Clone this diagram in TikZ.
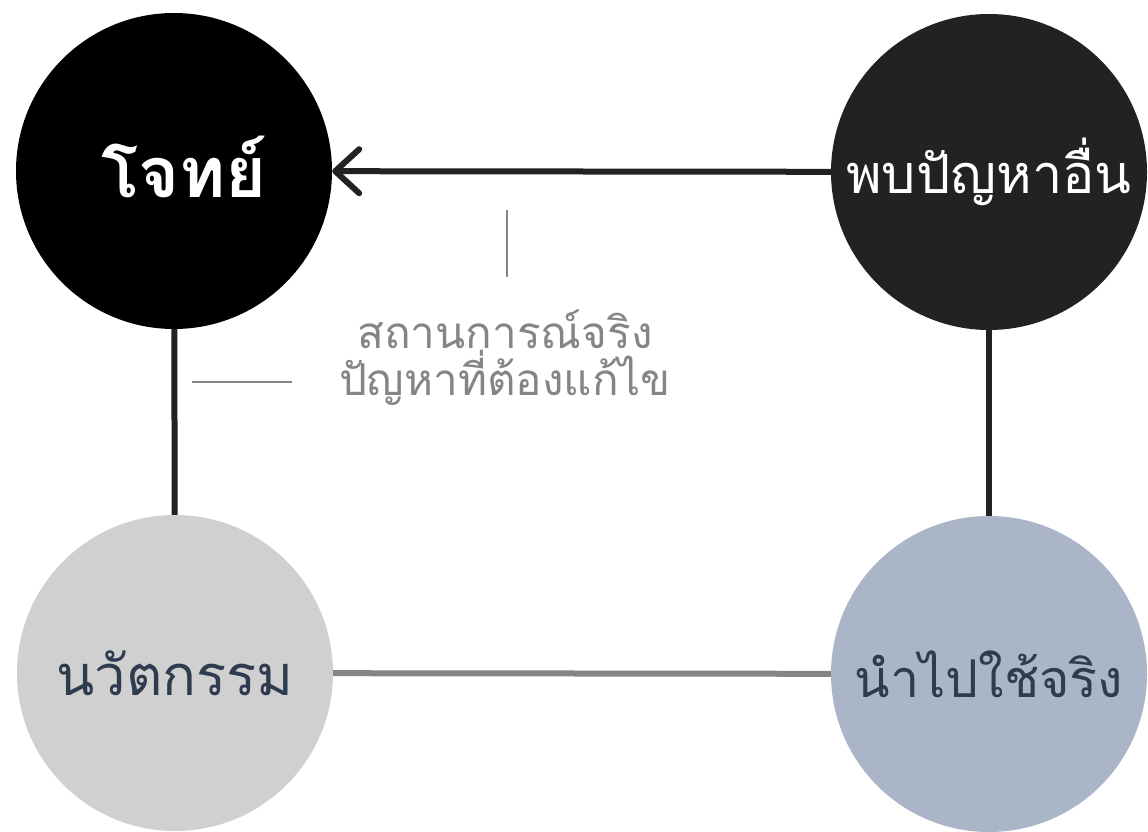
\documentclass[tikz,border=0pt]{standalone}
\usepackage{fontspec}
\newfontfamily\thaifont[Script=Thai]{Loma}
\usetikzlibrary{arrows.meta}

\definecolor{inkblack}{HTML}{000000}
\definecolor{inkdark}{HTML}{222222}
\definecolor{inklight}{HTML}{D0D0D1}
\definecolor{inkblue}{HTML}{AAB6C8}
\definecolor{inknavy}{HTML}{2F3B4F}
\definecolor{inkgray}{HTML}{858585}

\tikzstyle{bubble}=[circle, minimum size=316pt, inner sep=0pt, font=\thaifont\fontsize{54}{60}\selectfont]
\tikzstyle{edge} = [draw, line width=6pt, inkdark]
\tikzstyle{arrowedge} = [edge, -{Straight Barb[length=24pt, width=44pt, round]}]
\tikzstyle{grayedge} = [draw, line width=6pt, inkgray]
\tikzstyle{tick} = [draw, line width=1.6pt, inkgray]

\begin{document}
\begin{tikzpicture}[x=1pt, y=-1pt]
	\fill[white] (0,0) rectangle (1148,831);
	\node[bubble, fill=inkblack, text=white, font=\thaifont\bfseries\fontsize{70}{72}\selectfont] (problem) at (174,171) {\hspace*{20pt}\raisebox{8pt}{โจทย์}};
	\node[bubble, fill=inkdark, text=white] (other) at (989,172) {พบปัญหาอื่น};
	\node[bubble, fill=inklight, text=inknavy, font=\thaifont\fontsize{56}{60}\selectfont] (innov) at (175,673) {นวัตกรรม};
	\node[bubble, fill=inkblue, text=inknavy, font=\thaifont\fontsize{52}{60}\selectfont] (apply) at (989,674) {นำไปใช้จริง};
	\foreach \source/\dest/\kind in {other/problem/arrowedge, problem/innov/edge, other/apply/edge, innov/apply/grayedge}
		\path[\kind] (\source) -- (\dest);
	% caption between the top circles
	\node[align=center, text=inkgray, font=\thaifont\fontsize{44}{47}\selectfont] (situation) at (505,358) {สถานการณ์จริง\\ปัญหาที่ต้องแก้ไข};
	\coordinate (vtop) at (507,210);
	\coordinate (vbot) at (507,277);
	\coordinate (hleft) at (192,382);
	\coordinate (hright) at (292,382);
	\path[tick] (vtop) -- (vbot);
	\path[tick] (hleft) -- (hright);
\end{tikzpicture}
\end{document}
